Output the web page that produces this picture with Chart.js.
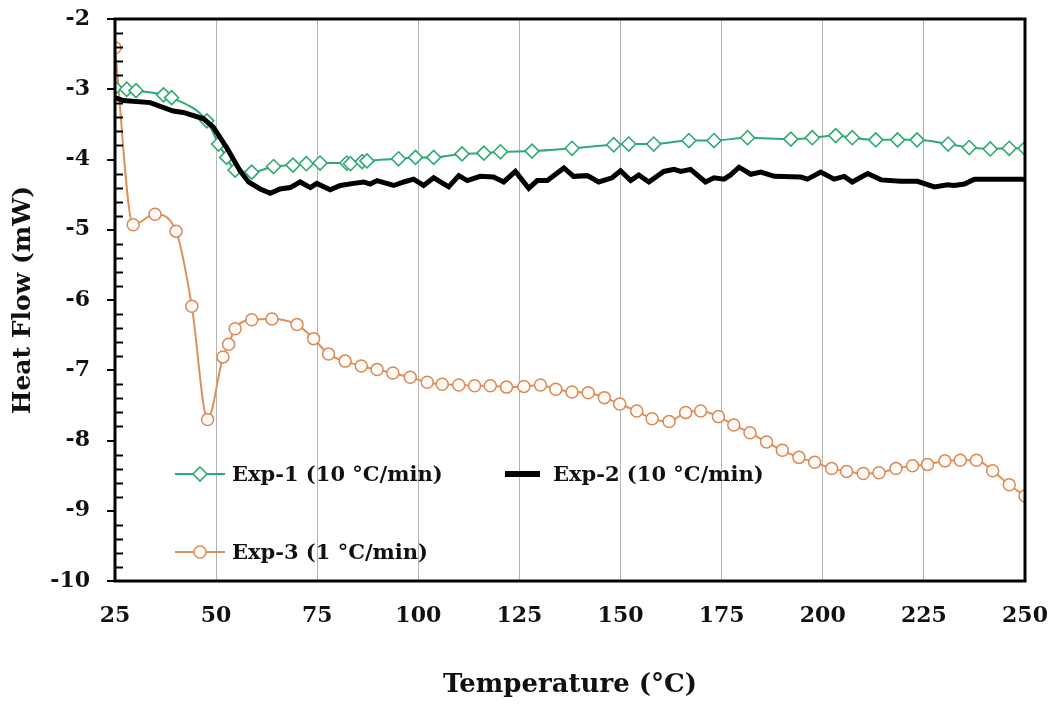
<!DOCTYPE html>
<html>
<head>
<meta charset="utf-8">
<script src="https://cdn.jsdelivr.net/npm/chart.js@4.4.1/dist/chart.umd.min.js"></script>
<style>
  html, body { margin: 0; padding: 0; background: #fff; }
  #wrap { position: relative; width: 1054px; height: 705px; }
  canvas { position: absolute; left: 0; top: 0; }
  .lg { position: absolute; font-family: "DejaVu Serif", serif; font-weight: bold; font-size: 21px; color: #111; white-space: nowrap; line-height: 24px; }
  .mk { position: absolute; }
</style>
</head>
<body>
<div id="wrap">
  <canvas id="c" width="1054" height="705"></canvas>
  <svg class="mk" style="left:170px;top:462px" width="60" height="24">
    <line x1="5" y1="12" x2="55" y2="12" stroke="#2EAA73" stroke-width="2"/>
    <polygon points="30,5 37,12 30,19 23,12" fill="#fff" stroke="#2EAA73" stroke-width="1.6"/>
  </svg>
  <div class="lg" style="left:232px;top:462px">Exp-1 (10 °C/min)</div>
  <svg class="mk" style="left:500px;top:462px" width="45" height="24">
    <line x1="5" y1="12" x2="40" y2="12" stroke="#000" stroke-width="6"/>
  </svg>
  <div class="lg" style="left:553px;top:462px">Exp-2 (10 °C/min)</div>
  <svg class="mk" style="left:170px;top:540px" width="60" height="24">
    <line x1="5" y1="12" x2="55" y2="12" stroke="#DE915A" stroke-width="2"/>
    <circle cx="30" cy="12" r="6" fill="#fffaf5" stroke="#DE915A" stroke-width="1.5"/>
  </svg>
  <div class="lg" style="left:232px;top:540px">Exp-3 (1 °C/min)</div>
</div>
<script>
// ---- Data ----
const exp1Temp = [25, 27.9, 30.2, 37, 39, 47.7, 50.6, 52.6, 54.7, 58.8, 64.2, 69, 72.3, 75.7, 82.3, 83.2, 86.1, 87.3, 95.1, 99.3, 103.8, 110.8, 116.2, 120.3, 128.1, 138, 148.3, 152, 158.2, 166.9, 173.1, 181.4, 192.1, 197.4, 203.2, 207.3, 213.1, 218.5, 223.3, 231, 236.2, 241.4, 246.1, 250];
const exp1Flow = [-2.98, -3.0, -3.02, -3.08, -3.12, -3.45, -3.78, -3.97, -4.15, -4.18, -4.10, -4.08, -4.06, -4.05, -4.05, -4.06, -4.03, -4.02, -3.99, -3.97, -3.97, -3.92, -3.91, -3.89, -3.88, -3.84, -3.79, -3.78, -3.78, -3.73, -3.73, -3.69, -3.71, -3.69, -3.66, -3.69, -3.72, -3.72, -3.72, -3.78, -3.83, -3.85, -3.84, -3.84];

const exp2Temp = [25, 27, 33.7, 39.4, 41.9, 46.9, 49.3, 52.6, 55.9, 58, 60.9, 63.4, 65.8, 68.3, 70.8, 73.3, 74.9, 78.2, 80.7, 84, 86.5, 88.1, 89.8, 93.9, 96.4, 98.8, 101.3, 103.8, 107.5, 110, 112.1, 115.3, 118.6, 121.1, 124, 127.3, 129.4, 131.9, 136, 138.4, 141.8, 144.6, 147.9, 150, 152.5, 154.5, 157, 160.7, 163.2, 164.9, 167.3, 171, 173.1, 175.6, 177.2, 179.3, 182.2, 184.7, 188, 194.6, 196.2, 199.5, 202.8, 205.3, 207.3, 211.1, 214.4, 219.3, 223.4, 227.6, 230.9, 232.5, 235, 237.5, 250];
const exp2Flow = [-3.12, -3.16, -3.19, -3.31, -3.33, -3.42, -3.54, -3.83, -4.16, -4.32, -4.42, -4.48, -4.42, -4.40, -4.32, -4.40, -4.34, -4.43, -4.37, -4.34, -4.32, -4.35, -4.30, -4.37, -4.32, -4.28, -4.37, -4.26, -4.39, -4.23, -4.30, -4.24, -4.25, -4.32, -4.17, -4.41, -4.30, -4.30, -4.12, -4.24, -4.23, -4.32, -4.26, -4.16, -4.30, -4.22, -4.32, -4.17, -4.14, -4.17, -4.14, -4.32, -4.26, -4.28, -4.22, -4.11, -4.21, -4.18, -4.24, -4.25, -4.28, -4.18, -4.28, -4.24, -4.32, -4.20, -4.29, -4.31, -4.31, -4.39, -4.36, -4.37, -4.35, -4.28, -4.28];

const exp3Temp = [25, 29.5, 34.9, 40.1, 44, 47.9, 51.7, 53.1, 54.7, 58.8, 63.8, 70, 74.1, 77.8, 81.9, 85.9, 89.8, 93.7, 98, 102.2, 105.9, 110, 113.9, 117.8, 121.8, 126.1, 130.2, 134, 138, 142, 146, 149.8, 154, 157.8, 162, 166.1, 169.8, 174.2, 178, 182, 186.1, 190, 194.1, 198, 202.2, 205.9, 210, 213.9, 218.1, 222.2, 225.9, 230.2, 234, 238, 242, 246.1, 250];
const exp3Flow = [-2.41, -4.93, -4.78, -5.02, -6.09, -7.70, -6.81, -6.63, -6.41, -6.28, -6.27, -6.35, -6.55, -6.77, -6.87, -6.94, -6.99, -7.04, -7.10, -7.17, -7.20, -7.21, -7.22, -7.22, -7.24, -7.23, -7.21, -7.27, -7.31, -7.32, -7.39, -7.48, -7.58, -7.69, -7.73, -7.60, -7.58, -7.66, -7.78, -7.89, -8.02, -8.14, -8.24, -8.31, -8.40, -8.44, -8.47, -8.46, -8.40, -8.36, -8.34, -8.29, -8.28, -8.28, -8.43, -8.63, -8.79];

const xTicks = [25, 50, 75, 100, 125, 150, 175, 200, 225, 250];
const yTicks = [-10, -9, -8, -7, -6, -5, -4, -3, -2];
const seriesNames = ["Exp-1 (10 °C/min)", "Exp-2 (10 °C/min)", "Exp-3 (1 °C/min)"];

const pts = (xs, ys) => xs.map((x, i) => ({ x: x, y: ys[i] }));

const frame = {
  id: 'frame',
  afterDraw(chart) {
    const { ctx, chartArea: a, scales: { y } } = chart;
    ctx.save();
    ctx.strokeStyle = '#000';
    ctx.lineWidth = 2;
    for (let v = -10; v <= -2 + 1e-9; v += 0.2) {
      if (Math.abs(v - Math.round(v)) < 1e-6) continue;
      const py = Math.round(y.getPixelForValue(v)) + 0.5;
      ctx.beginPath(); ctx.moveTo(a.left, py); ctx.lineTo(a.left + 8, py); ctx.stroke();
    }
    ctx.lineWidth = 3;
    ctx.strokeRect(a.left, a.top, a.right - a.left, a.bottom - a.top);
    ctx.restore();
  }
};

Chart.defaults.font.family = '"DejaVu Serif", serif';
new Chart(document.getElementById('c'), {
  type: 'line',
  data: {
    datasets: [
      { label: seriesNames[0], data: pts(exp1Temp, exp1Flow), borderColor: '#2EAA73', borderWidth: 2,
        pointStyle: 'rectRot', pointRadius: 7, pointBackgroundColor: '#fff', pointBorderColor: '#2EAA73', pointBorderWidth: 1.6,
        cubicInterpolationMode: 'monotone', order: 2 },
      { label: seriesNames[1], data: pts(exp2Temp, exp2Flow), borderColor: '#000', borderWidth: 5,
        pointRadius: 0, tension: 0, order: 1 },
      { label: seriesNames[2], data: pts(exp3Temp, exp3Flow), borderColor: '#DE915A', borderWidth: 2,
        pointStyle: 'circle', pointRadius: 6, pointBackgroundColor: '#fffaf5', pointBorderColor: '#D98A55', pointBorderWidth: 1.5,
        cubicInterpolationMode: 'monotone', order: 3 }
    ]
  },
  options: {
    responsive: false,
    animation: false,
    devicePixelRatio: 1,
    layout: { padding: { left: 0, top: 19, right: 29, bottom: 0 } },
    plugins: { legend: { display: false }, tooltip: { enabled: false } },
    scales: {
      x: {
        type: 'linear', min: 25, max: 250,
        afterBuildTicks: s => { s.ticks = xTicks.map(v => ({ value: v })); },
        afterFit: s => { s.height = 124; s.paddingLeft = 0; s.paddingRight = 0; },
        grid: { color: '#b4b4b4', lineWidth: 1, drawTicks: false },
        border: { display: false },
        ticks: { font: { size: 22, weight: 'bold' }, color: '#111', padding: 22, maxRotation: 0 },
        title: { display: true, text: 'Temperature (°C)', font: { size: 26, weight: 'bold' }, color: '#111', padding: { top: 4, bottom: 4 } }
      },
      y: {
        min: -10, max: -2,
        afterBuildTicks: s => { s.ticks = yTicks.map(v => ({ value: v })); },
        afterFit: s => { s.width = 115; s.paddingTop = 0; s.paddingBottom = 0; },
        grid: { drawOnChartArea: false, drawTicks: true, tickLength: 8, color: '#000', lineWidth: 2 },
        border: { display: false },
        ticks: { font: { size: 22, weight: 'bold' }, color: '#111', padding: 17 },
        title: { display: true, text: 'Heat Flow (mW)', font: { size: 25, weight: 'bold' }, color: '#111', padding: { top: 8, bottom: 4 } }
      }
    }
  },
  plugins: [frame]
});
</script>
</body>
</html>
